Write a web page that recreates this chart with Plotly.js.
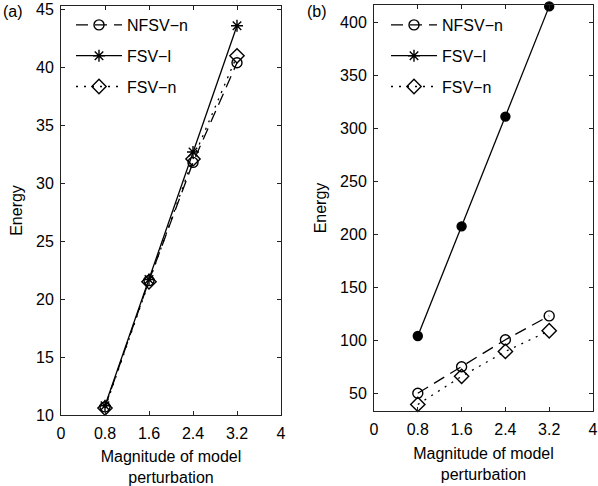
<!DOCTYPE html>
<html>
<head>
<meta charset="utf-8">
<script src="https://cdn.plot.ly/plotly-3.0.1.min.js"></script>
<style>html,body{margin:0;padding:0;background:#fff;}#chart{width:598px;height:486px;}</style>
</head>
<body>
<div id="chart"></div>
<script>
// ---- data ----
const xMag = [0.8, 1.6, 2.4, 3.2];
const seriesNames = ["NFSV\u2212n", "FSV\u2212l", "FSV\u2212n"];
// panel (a)
const aNFSVn = [10.7, 21.6, 31.8, 40.4];
const aFSVl  = [10.8, 21.7, 32.7, 43.6];
const aFSVn  = [10.6, 21.5, 32.1, 41.0];
// panel (b)
const bNFSVn = [50, 75, 100.5, 123];
const bFSVl  = [104, 207.5, 311, 415];
const bFSVn  = [39.5, 66, 89.5, 109];
// ticks
const xTickVals = [0, 0.8, 1.6, 2.4, 3.2, 4];
const xTickText = ["0", "0.8", "1.6", "2.4", "3.2", "4"];
const aYTicks = [10, 15, 20, 25, 30, 35, 40, 45];
const bYTicks = [50, 100, 150, 200, 250, 300, 350, 400];
const panelLabels = ["(a)", "(b)"];
const xTitle = "Magnitude of model<br>perturbation";
const yTitle = "Energy";

const FONT = "Liberation Sans, Arial, Helvetica, sans-serif";
const FS = 16;
const LW = 1.3;
const DASH = "12px,7px";
const DOT = "2px,6px";

function tr(x, y, name, dash, sym, size, xa, ya, leg, showleg, grp) {
  return {
    x: x, y: y, name: name, type: "scatter", mode: "lines+markers",
    xaxis: xa, yaxis: ya, legend: leg, showlegend: showleg, legendgroup: grp,
    line: {color: "black", width: LW, dash: dash},
    marker: {symbol: sym, size: size, color: "black",
             line: {color: "black", width: 1.4}},
    cliponaxis: false
  };
}

const data = [
  tr(xMag, aNFSVn, seriesNames[0], DASH, "circle-open", 10, "x", "y", "legend", true, "a1"),
  tr(xMag, aFSVl,  seriesNames[1], "solid", "asterisk-open", 10, "x", "y", "legend", true, "a2"),
  tr(xMag, aFSVn,  seriesNames[2], DOT, "diamond-open", 11, "x", "y", "legend", true, "a3"),
  tr(xMag, bNFSVn, seriesNames[0], DASH, "circle-open", 10, "x2", "y2", "legend2", true, "b1"),
  // legend-only entry for FSV-l in panel (b) (legend shows asterisk)
  tr([null], [null], seriesNames[1], "solid", "asterisk-open", 10, "x2", "y2", "legend2", true, "b2"),
  tr(xMag, bFSVn,  seriesNames[2], DOT, "diamond-open", 11, "x2", "y2", "legend2", true, "b3"),
  tr(xMag, bFSVl,  seriesNames[1], "solid", "circle", 9, "x2", "y2", "legend2", false, "b2")
];

function xax(domain, anchor) {
  return {
    domain: domain, anchor: anchor, range: [0, 4],
    tickvals: xTickVals, ticktext: xTickText,
    ticks: "inside", ticklen: 4, tickcolor: "#222", tickwidth: 1,
    showline: true, linecolor: "#222", linewidth: 1, mirror: "ticks",
    showgrid: false, zeroline: false, ticklabelstandoff: 4, ticklabeloverflow: "allow",
    tickfont: {family: FONT, size: FS, color: "black"},
    title: {text: xTitle, font: {family: FONT, size: FS, color: "black"}, standoff: 10}
  };
}
function yax(domain, anchor, range, ticks) {
  return {
    domain: domain, anchor: anchor, range: range,
    tickvals: ticks,
    ticks: "inside", ticklen: 4, tickcolor: "#222", tickwidth: 1,
    showline: true, linecolor: "#222", linewidth: 1, mirror: "ticks",
    showgrid: false, zeroline: false, ticklabelstandoff: 3, ticklabeloverflow: "allow",
    tickfont: {family: FONT, size: FS, color: "black"},
    title: {text: yTitle, font: {family: FONT, size: FS, color: "black"}, standoff: 9}
  };
}

const legBase = {
  bgcolor: "rgba(0,0,0,0)", borderwidth: 0,
  font: {family: FONT, size: FS, color: "black"},
  xanchor: "left", yanchor: "top", tracegroupgap: 7, itemwidth: 46
};

const layout = {
  width: 598, height: 486,
  margin: {l: 0, r: 0, t: 0, b: 0},
  paper_bgcolor: "white", plot_bgcolor: "white",
  showlegend: true,
  xaxis: xax([61/598, 281/598], "y"),
  yaxis: yax([1 - 415/486, 1 - 6/486], "x", [10, 45.3], aYTicks),
  xaxis2: xax([374/598, 593/598], "y2"),
  yaxis2: yax([1 - 411/486, 1 - 5/486], "x2", [33.3, 416.3], bYTicks),
  legend: Object.assign({}, legBase, {x: 71/598, y: 1 - 8/486}),
  legend2: Object.assign({}, legBase, {x: 386/598, y: 1 - 8/486}),
  annotations: [
    {text: panelLabels[0], xref: "paper", yref: "paper", x: 1/598, y: 1 - 1/486,
     xanchor: "left", yanchor: "top", showarrow: false,
     font: {family: FONT, size: FS, color: "black"}},
    {text: panelLabels[1], xref: "paper", yref: "paper", x: 305/598, y: 1 - 1/486,
     xanchor: "left", yanchor: "top", showarrow: false,
     font: {family: FONT, size: FS, color: "black"}}
  ]
};

Plotly.newPlot("chart", data, layout, {staticPlot: true, displayModeBar: false});
</script>
</body>
</html>
